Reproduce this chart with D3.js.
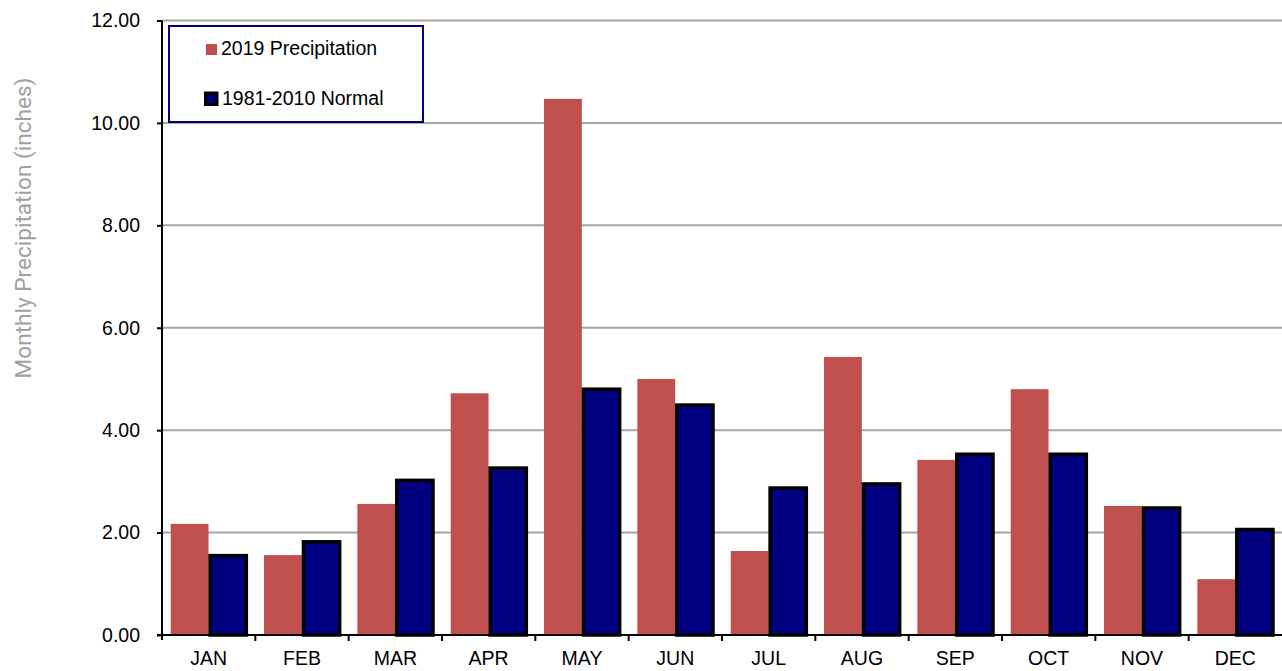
<!DOCTYPE html>
<meta charset="utf-8">
<style>
  body { margin: 0; background: #fff; }
  text { font-family: Arial, "Liberation Sans", sans-serif; }
</style>
<script src="https://d3js.org/d3.v7.min.js"></script>
<div id="my_dataviz"></div>
<script>

// data
var months = ["JAN","FEB","MAR","APR","MAY","JUN","JUL","AUG","SEP","OCT","NOV","DEC"];
var precip2019 = [2.17, 1.56, 2.56, 4.72, 10.47, 5.00, 1.64, 5.43, 3.42, 4.80, 2.52, 1.09];
var normal = [1.55, 1.82, 3.02, 3.26, 4.80, 4.49, 2.87, 2.95, 3.53, 3.53, 2.48, 2.06];
var yTicks = [0, 2, 4, 6, 8, 10, 12];
var seriesNames = ["2019 Precipitation", "1981-2010 Normal"];

var width = 1282, height = 671;
var margin = {top: 20.5, right: 0, bottom: 36, left: 162};

var svg = d3.select("#my_dataviz")
  .append("svg")
    .attr("width", width)
    .attr("height", height);

var x0 = d3.scaleBand()
    .domain(months)
    .range([margin.left, width - margin.right]);

var x1 = d3.scaleBand()
    .domain([0, 1])
    .range([8.7, x0.bandwidth() - 9]);

var y = d3.scaleLinear()
    .domain([0, 12])
    .range([height - margin.bottom, margin.top]);

// gridlines
svg.append("g")
  .selectAll("line")
  .data(yTicks)
  .enter().append("line")
    .attr("x1", margin.left)
    .attr("x2", width)
    .attr("y1", function(d) { return y(d); })
    .attr("y2", function(d) { return y(d); })
    .style("stroke", "#a6a6a6")
    .style("stroke-width", 2);

// bars
var groups = svg.append("g")
  .selectAll("g")
  .data(months)
  .enter().append("g")
    .attr("transform", function(d) { return "translate(" + x0(d) + ",0)"; });

groups.append("rect")
    .attr("x", x1(0))
    .attr("width", x1.bandwidth())
    .attr("y", function(d, i) { return y(precip2019[i]); })
    .attr("height", function(d, i) { return y(0) - y(precip2019[i]); })
    .style("fill", "#c0504d");

groups.append("rect")
    .attr("x", x1(1) + 1.6)
    .attr("width", x1.bandwidth() - 1.6)
    .attr("y", function(d, i) { return y(normal[i]); })
    .attr("height", function(d, i) { return y(0) - y(normal[i]); })
    .style("fill", "#000080")
    .style("stroke", "#000")
    .style("stroke-width", 3.5);

// y axis
var yAxis = svg.append("g")
    .attr("transform", "translate(" + margin.left + ",0)")
    .call(d3.axisLeft(y).tickValues(yTicks).tickSize(5).tickPadding(17)
      .tickFormat(d3.format(".2f")));
yAxis.select(".domain").attr("d", "M0," + (y(0) + 5) + "V" + y(12)).style("stroke-width", 2);
yAxis.selectAll(".tick line").style("stroke-width", 2);
yAxis.selectAll("text").style("font-size", "19.5px").style("fill", "#000")
    .style("font-family", "Arial, 'Liberation Sans', sans-serif");

// x axis
var xAxis = svg.append("g")
    .attr("transform", "translate(0," + y(0) + ")");
xAxis.append("line")
    .attr("x1", margin.left - 5).attr("x2", width)
    .style("stroke", "#000").style("stroke-width", 2);
xAxis.selectAll(".xt")
  .data(months.slice(1))
  .enter().append("line")
    .attr("x1", function(d) { return x0(d); })
    .attr("x2", function(d) { return x0(d); })
    .attr("y1", 0).attr("y2", 6)
    .style("stroke", "#000").style("stroke-width", 2);
xAxis.selectAll(".xl")
  .data(months)
  .enter().append("text")
    .attr("x", function(d) { return x0(d) + x0.bandwidth() / 2; })
    .attr("y", 30)
    .attr("text-anchor", "middle")
    .style("font-size", "19.5px")
    .text(function(d) { return d; });

// y title
svg.append("text")
    .attr("transform", "translate(31,228) rotate(-90)")
    .attr("text-anchor", "middle")
    .style("font-family", "Roboto, sans-serif")
    .style("font-size", "22.6px")
    .style("fill", "#a0a0a0")
    .text("Monthly Precipitation (inches)");

// legend
var legend = svg.append("g");
legend.append("rect")
    .attr("x", 169).attr("y", 26)
    .attr("width", 254).attr("height", 96)
    .style("fill", "#fff")
    .style("stroke", "#000080")
    .style("stroke-width", 2);

legend.append("rect")
    .attr("x", 206).attr("y", 44)
    .attr("width", 11).attr("height", 11)
    .style("fill", "#c0504d");
legend.append("rect")
    .attr("x", 205.5).attr("y", 93)
    .attr("width", 11.5).attr("height", 11.5)
    .style("fill", "#000080")
    .style("stroke", "#000")
    .style("stroke-width", 3);

legend.selectAll(".lt")
  .data(seriesNames)
  .enter().append("text")
    .attr("x", function(d, i) { return i === 0 ? 221 : 222; })
    .attr("y", function(d, i) { return i === 0 ? 55 : 105; })
    .style("font-size", "19.5px")
    .text(function(d) { return d; });

</script>
